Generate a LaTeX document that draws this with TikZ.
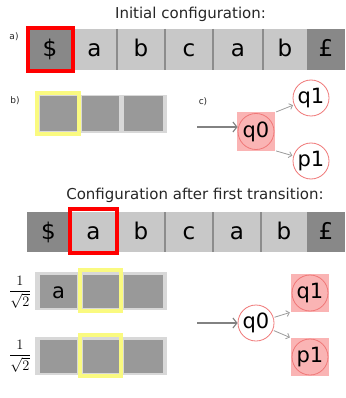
\documentclass[tikz,border=0pt]{standalone}
\usepackage{amsmath}
\usepackage{fontspec}
\setmainfont{DejaVu Sans}
\usetikzlibrary{arrows.meta}

\definecolor{tapelight}{RGB}{200,200,200}
\definecolor{tapedark}{RGB}{136,136,136}
\definecolor{divider}{RGB}{140,140,140}
\definecolor{regcell}{RGB}{153,153,153}
\definecolor{regback}{RGB}{216,216,216}
\definecolor{headyellow}{RGB}{250,250,128}
\definecolor{statepink}{RGB}{250,180,180}
\definecolor{stateedge}{RGB}{240,120,120}
\definecolor{arrowgrey}{RGB}{130,130,130}

\begin{document}
\begin{tikzpicture}[x=1pt,y=-1pt,
  cell/.style={inner sep=0pt, outer sep=0pt, anchor=north west,
    font=\fontsize{23}{23}\selectfont, text height=17pt, text depth=2pt},
  lightcell/.style={cell, fill=tapelight},
  darkcell/.style={cell, fill=tapedark},
  regcellbox/.style={cell, fill=regcell, font=\fontsize{21}{21}\selectfont,
    text height=15pt, text depth=2pt},
  regstrip/.style={inner sep=0pt, outer sep=0pt, anchor=north west, fill=regback},
  divline/.style={draw=divider, line width=2.5pt},
  tapehead/.style={draw=red, line width=4pt, inner sep=0pt, fill=none},
  reghead/.style={draw=headyellow, line width=4pt, inner sep=0pt, fill=none},
  title/.style={font=\fontsize{15}{15}\selectfont, text=black!85},
  partlabel/.style={font=\fontsize{9}{9}\selectfont, text=black!85},
  amp/.style={font=\fontsize{15}{15}\selectfont, inner sep=0pt},
  state/.style={circle, draw=stateedge, line width=0.8pt, fill=white,
    minimum size=36pt, inner sep=0pt, font=\fontsize{21}{21}\selectfont},
  activestate/.style={state, fill=statepink},
  statebg/.style={fill=statepink, minimum size=38pt, inner sep=0pt},
  entry/.style={draw=arrowgrey, line width=1.1pt,
    -{Straight Barb[length=4pt,width=10pt,line width=1.1pt]}},
  branch/.style={draw=arrowgrey!80, line width=0.8pt,
    -{Straight Barb[length=3pt,width=6pt,line width=0.8pt]}, shorten <=1pt, shorten >=1pt}
]
\useasboundingbox (0,0) rectangle (345,398);

% ---------- initial configuration ----------
\node[title] (title1) at (190.5,14) {Initial configuration:};
\node[partlabel] (la) at (14,37) {a)};

% tape
\node[darkcell,  minimum width=44pt, minimum height=41pt] (t1c0) at (28,29)  {\$};
\node[lightcell, minimum width=45pt, minimum height=41pt] (t1c1) at (72,29)  {a};
\node[lightcell, minimum width=48pt, minimum height=41pt] (t1c2) at (117,29) {b};
\node[lightcell, minimum width=48pt, minimum height=41pt] (t1c3) at (165,29) {c};
\node[lightcell, minimum width=50pt, minimum height=41pt] (t1c4) at (213,29) {a};
\node[lightcell, minimum width=44pt, minimum height=41pt] (t1c5) at (263,29) {b};
\node[darkcell,  minimum width=38pt, minimum height=41pt] (t1c6) at (307,29) {£};
\draw[divline] (t1c2.north west) -- (t1c2.south west);
\draw[divline] (t1c3.north west) -- (t1c3.south west);
\draw[divline] (t1c4.north west) -- (t1c4.south west);
\draw[divline] (t1c5.north west) -- (t1c5.south west);
\node[tapehead, minimum width=45pt, minimum height=43pt] (h1) at (50,49.5) {};

% register
\node[partlabel] (lb) at (15,101) {b)};
\node[regstrip, minimum width=131pt, minimum height=38pt] (r1) at (36,95) {};
\node[regcellbox, minimum width=37pt, minimum height=35pt] (r1c0) at (40,96)  {};
\node[regcellbox, minimum width=37pt, minimum height=35pt] (r1c1) at (82,96)  {};
\node[regcellbox, minimum width=39pt, minimum height=35pt] (r1c2) at (124,96) {};
\node[reghead, minimum width=42pt, minimum height=41pt] (y1) at (58,113.5) {};

% automaton
\node[partlabel] (lc) at (203,102) {c)};
\coordinate (in1) at (197,127);
\node[statebg] (bg1) at (256,131.5) {};
\node[activestate] (a0) at (256,131.5) {q0};
\node[state] (a1) at (311,98)  {q1};
\node[state] (a2) at (311,161) {p1};
\draw[entry] (in1) -- (a0.west |- in1);
\draw[branch] (bg1.north east) -- (a1);
\draw[branch] (bg1.south east) -- (a2);

% ---------- after the first transition ----------
\node[title] (title2) at (195,195) {Configuration after first transition:};

\node[darkcell,  minimum width=43pt, minimum height=40pt] (t2c0) at (27,212)  {\$};
\node[lightcell, minimum width=47pt, minimum height=40pt] (t2c1) at (70,212)  {a};
\node[lightcell, minimum width=48pt, minimum height=40pt] (t2c2) at (117,212) {b};
\node[lightcell, minimum width=48pt, minimum height=40pt] (t2c3) at (165,212) {c};
\node[lightcell, minimum width=48pt, minimum height=40pt] (t2c4) at (213,212) {a};
\node[lightcell, minimum width=46pt, minimum height=40pt] (t2c5) at (261,212) {b};
\node[darkcell,  minimum width=38pt, minimum height=40pt] (t2c6) at (307,212) {£};
\draw[divline] (t2c3.north west) -- (t2c3.south west);
\draw[divline] (t2c4.north west) -- (t2c4.south west);
\draw[divline] (t2c5.north west) -- (t2c5.south west);
\node[tapehead, minimum width=47pt, minimum height=44pt] (h2) at (93.8,231) {};

% first branch of the register
\node[amp] (f1) at (20,292) {$\dfrac{1}{\sqrt{2}}$};
\node[regstrip, minimum width=132pt, minimum height=38pt] (r2) at (35,272) {};
\node[regcellbox, minimum width=37pt, minimum height=33pt] (r2c0) at (40,275)  {a};
\node[regcellbox, minimum width=36pt, minimum height=33pt] (r2c1) at (83,275)  {};
\node[regcellbox, minimum width=39pt, minimum height=33pt] (r2c2) at (124,275) {};
\node[reghead, minimum width=41pt, minimum height=41pt] (y2) at (100.5,290.5) {};

% second branch of the register
\node[amp] (f2) at (20,356) {$\dfrac{1}{\sqrt{2}}$};
\node[regstrip, minimum width=132pt, minimum height=38pt] (r3) at (35,337) {};
\node[regcellbox, minimum width=37pt, minimum height=33pt] (r3c0) at (40,340)  {};
\node[regcellbox, minimum width=36pt, minimum height=33pt] (r3c1) at (83,340)  {};
\node[regcellbox, minimum width=39pt, minimum height=33pt] (r3c2) at (124,340) {};
\node[reghead, minimum width=41pt, minimum height=41pt] (y3) at (100.5,355.5) {};

% automaton
\coordinate (in2) at (197,323);
\node[state] (b0) at (256,323) {q0};
\node[statebg] (bg2) at (310,293) {};
\node[activestate] (b1) at (310,293) {q1};
\node[statebg] (bg3) at (310,357) {};
\node[activestate] (b2) at (310,357) {p1};
\draw[entry] (in2) -- (b0.west |- in2);
\draw[branch] (b0) -- (bg2.south west);
\draw[branch] (b0) -- (bg3.north west);
\end{tikzpicture}
\end{document}
